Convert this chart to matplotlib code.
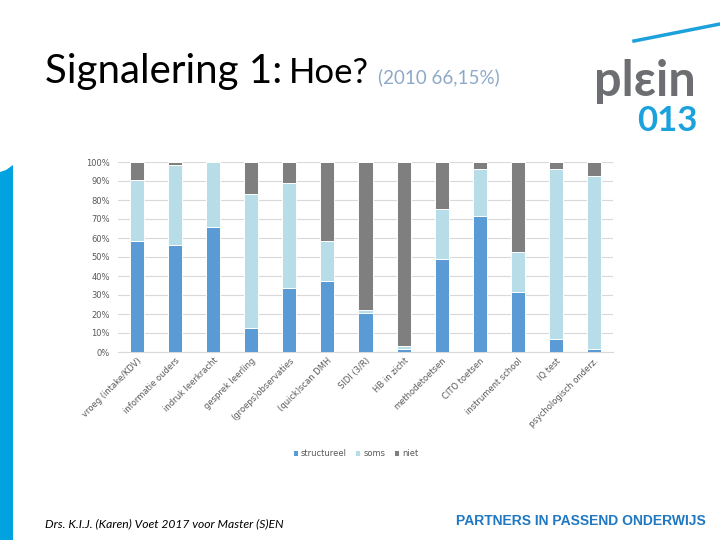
import numpy as np
import matplotlib.pyplot as plt
from matplotlib.patches import Polygon
from matplotlib.lines import Line2D

# categorieën en percentages
categorieen = ['vroeg (intake/KDV)', 'informatie ouders', 'indruk leerkracht',
               'gesprek leerling', '(groeps)observaties', '(quick)scan DMH',
               'SIDI (3/R)', 'HB in zicht', 'methodetoetsen', 'CITO toetsen',
               'instrument school', 'IQ test', 'psychologisch onderz.']
structureel = [58.5, 56.4, 65.8, 12.6, 33.8, 37.5, 20.7, 1.6, 49.0, 71.5, 31.5, 7.0, 1.6]
soms = [32.0, 41.8, 34.2, 70.6, 55.2, 21.0, 1.5, 1.6, 26.3, 25.0, 21.2, 89.3, 91.0]
niet = [9.5, 1.8, 0.0, 16.8, 11.0, 41.5, 77.8, 96.8, 24.7, 3.5, 47.3, 3.7, 7.4]

kleur_struct = '#5B9BD5'
kleur_soms = '#B7DDE8'
kleur_niet = '#7F7F7F'

fig = plt.figure(figsize=(7.2, 5.4), dpi=100)
fig.patch.set_facecolor('white')

# linker blauwe balk
fig.patches.append(Polygon([[0, 0], [13 / 720, 0], [13 / 720, 1 - 165 / 540],
                            [6 / 720, 1 - 170 / 540], [0, 1 - 172 / 540]],
                           closed=True, transform=fig.transFigure,
                           facecolor='#00A3E0', edgecolor='none'))
# blauwe lijn rechtsboven
fig.lines.append(Line2D([634 / 720, 1.0], [1 - 41 / 540, 1 - 24 / 540],
                        transform=fig.transFigure, color='#1BA1DC', lw=2.5))

# titel
fig.text(45 / 720, 1 - 83 / 540, 'Signalering 1:', fontsize=29, family='Lato',
         color='black', va='baseline')
fig.text(289 / 720, 1 - 83 / 540, 'Hoe?', fontsize=25, family='Lato',
         color='black', va='baseline')
fig.text(378 / 720, 1 - 83 / 540, '(2010 66,15%)', fontsize=13.5, family='Lato',
         color='#8EA9C8', va='baseline')

# logo
fig.text(645 / 720, 1 - 96 / 540, 'pl\u03b5in', fontsize=35, family='Lato',
         weight='bold', color='#6D6E71', ha='center', va='baseline')
fig.text(667 / 720, 1 - 131 / 540, '013', fontsize=25, family='Lato',
         weight='bold', color='#1BA1DC', ha='center', va='baseline')

# grafiek
ax = fig.add_axes([118 / 720, 1 - 352 / 540, 495 / 720, 190 / 540])
x = np.arange(len(categorieen))
breedte = 0.37
ax.bar(x, structureel, breedte, color=kleur_struct, edgecolor='white',
       linewidth=0.7, label='structureel', zorder=3)
ax.bar(x, soms, breedte, bottom=structureel, color=kleur_soms,
       edgecolor='white', linewidth=0.7, label='soms', zorder=3)
onder = np.array(structureel) + np.array(soms)
ax.bar(x, niet, breedte, bottom=onder, color=kleur_niet, edgecolor='white',
       linewidth=0.7, label='niet', zorder=3)

ax.set_xlim(-0.5, len(categorieen) - 0.5)
ax.set_ylim(0, 100)
ax.set_yticks(np.arange(0, 101, 10))
ax.set_yticklabels([f'{v}%' for v in range(0, 101, 10)])
ax.yaxis.grid(True, color='#D9D9D9', linewidth=0.8, zorder=0)
ax.set_axisbelow(True)
for s in ['top', 'right', 'left']:
    ax.spines[s].set_visible(False)
ax.spines['bottom'].set_color('#D9D9D9')
ax.tick_params(axis='y', length=0, labelsize=6, labelcolor='#595959', pad=6)
ax.tick_params(axis='x', length=0, labelsize=6, labelcolor='#595959', pad=3)
ax.set_xticks(x)
ax.set_xticklabels(categorieen, rotation=45, ha='right', rotation_mode='anchor')

ax.legend(loc='upper center', bbox_to_anchor=(0.48, -0.47), ncol=3,
          frameon=False, fontsize=6, handlelength=0.6, handleheight=0.6,
          handletextpad=0.4, columnspacing=1.0, labelcolor='#595959')

# voettekst
fig.text(45 / 720, 1 - 527 / 540, 'Drs. K.I.J. (Karen) Voet 2017 voor Master (S)EN',
         fontsize=8.7, style='italic', family='Lato', color='black', va='baseline')
fig.text(706 / 720, 1 - 525 / 540, 'PARTNERS IN PASSEND ONDERWIJS', fontsize=10,
         weight='bold', family='Liberation Sans', color='#1F78C1', ha='right',
         va='baseline')

fig.savefig('out.png', dpi=100)
